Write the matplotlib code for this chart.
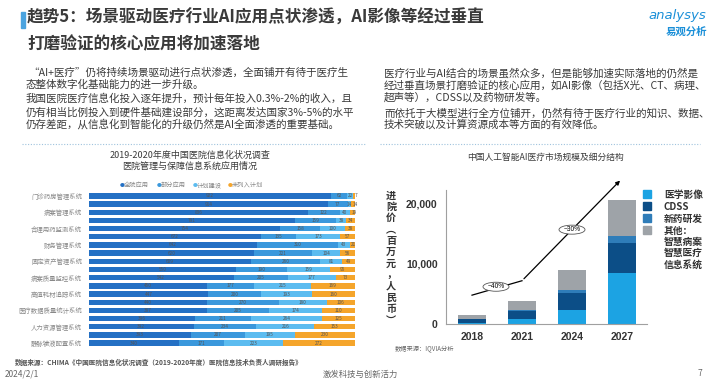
import matplotlib.pyplot as plt
from matplotlib.patches import Rectangle, Ellipse
from matplotlib.lines import Line2D
import numpy as np

plt.rcParams['font.family'] = ['Noto Sans CJK SC', 'DejaVu Sans']

# ---- left chart data: hospital systems (19 bars, every other one labelled)
sys_labels = ["门诊药房管理系统", "病案管理系统", "合理用药监测系统", "财务管理系统",
              "固定资产管理系统", "病案质量监控系统", "高值耗材追踪系统",
              "医疗数据质量统计系统", "人力资源管理系统", "静脉输液配置系统"]
status_names = ["全院应用", "部分应用", "计划建设", "未列入计划"]
full_use = [922, 914, 836, 791, 754, 672, 642, 620, 609, 550, 542, 450, 447, 440, 387, 396, 392, 393, 340]
part_use = [62, 77, 122, 159, 158, 135, 310, 221, 260, 190, 205, 177, 200, 270, 205, 211, 234, 207, 171]
planned = [22, 14, 40, 38, 100, 173, 43, 104, 81, 159, 177, 215, 193, 180, 174, 264, 216, 195, 223]
not_planned = [7, 14, 19, 34, 38, 57, 21, 56, 49, 95, 73, 169, 160, 106, 110, 125, 153, 230, 272]
status_colors = ["#2470c4", "#3a98dc", "#5cbcf0", "#f5a52b"]

# ---- right chart data: AI medical market (million RMB)
years = ["2018", "2021", "2024", "2027"]
seg_names = ["医学影像", "CDSS", "新药研发", "其他：\n智慧病案\n智慧医疗\n信息系统"]
imaging = [150, 750, 2300, 8500]
cdss = [650, 1350, 2800, 5000]
drug = [50, 150, 600, 1200]
other = [650, 1650, 3300, 6000]
seg_colors = ["#1ca3e3", "#0c4e87", "#2f7db9", "#9ea3a8"]

W, H = 720, 380
fig = plt.figure(figsize=(7.2, 3.8), dpi=100)
fig.patch.set_facecolor("white")


def fx(px):
    return px / W


def fy(py):
    return 1 - py / H


txt = "#3a3a3a"

# ---- header
fig.add_artist(Rectangle((fx(21), fy(28)), fx(3.5), 16 / H, color="#4aa3df", transform=fig.transFigure))
fig.text(fx(27), fy(18), "趋势5：场景驱动医疗行业AI应用点状渗透，AI影像等经过垂直",
         fontsize=12, weight="bold", color=txt, va="center")
fig.text(fx(27), fy(44), "打磨验证的核心应用将加速落地",
         fontsize=12, weight="bold", color=txt, va="center")
fig.text(fx(677), fy(16), "analysys", fontsize=9.5, style="italic", color="#1a8fd8",
         ha="center", va="center", family=["DejaVu Sans"])
fig.text(fx(686), fy(32), "易观分析", fontsize=7.5, weight="bold", color="#1a8fd8",
         ha="center", va="center")

# ---- body text
left_lines = [(28, 73, "“AI+医疗”仍将持续场景驱动进行点状渗透，全面铺开有待于医疗生"),
              (26, 85, "态整体数字化基础能力的进一步升级。"),
              (26, 99, "我国医院医疗信息化投入逐年提升，预计每年投入0.3%-2%的收入，且"),
              (26, 112, "仍有相当比例投入到硬件基础建设部分，这距离发达国家3%-5%的水平"),
              (26, 124, "仍存差距，从信息化到智能化的升级仍然是AI全面渗透的重要基础。")]
right_lines = [(384, 73, "医疗行业与AI结合的场景虽然众多，但是能够加速实际落地的仍然是"),
               (384, 85, "经过垂直场景打磨验证的核心应用，如AI影像（包括X光、CT、病理、"),
               (384, 97, "超声等），CDSS以及药物研发等。"),
               (384, 113, "而依托于大模型进行全方位铺开，仍然有待于医疗行业的知识、数据、"),
               (384, 124, "技术突破以及计算资源成本等方面的有效降低。")]
for x, y, s in left_lines + right_lines:
    fig.text(fx(x), fy(y), s, fontsize=7.6, color=txt, va="center")

fig.add_artist(Line2D([fx(22), fx(365)], [fy(144), fy(144)], transform=fig.transFigure,
                      color="#9fc3dd", lw=0.8, ls=(0, (1, 1.5))))
fig.add_artist(Line2D([fx(380), fx(700)], [fy(144), fy(144)], transform=fig.transFigure,
                      color="#9fc3dd", lw=0.8, ls=(0, (1, 1.5))))

# ---- left chart
fig.text(fx(190), fy(155), "2019-2020年度中国医院信息化状况调查", fontsize=6.5, color=txt,
         ha="center", va="center")
fig.text(fx(190), fy(166), "医院管理与保障信息系统应用情况", fontsize=6.5, color=txt,
         ha="center", va="center")
for name, col, x in zip(status_names, status_colors, [120, 157, 193, 228]):
    fig.text(fx(x), fy(185), "●", fontsize=3.5, color=col, va="center")
    fig.text(fx(x + 4), fy(185), name, fontsize=4.5, color="#888888", va="center")

ax1 = fig.add_axes([fx(89), fy(348), fx(355 - 89), (348 - 191) / H])
data = np.array([full_use, part_use, planned, not_planned], dtype=float)
totals = data.sum(axis=0)
shares = data / totals
ypos = np.arange(len(full_use))
left = np.zeros(len(full_use))
for i in range(4):
    ax1.barh(ypos, shares[i], left=left, height=0.66, color=status_colors[i])
    for j in ypos:
        # tiny end segments get their labels pushed apart a little
        xoff = 0.006 * (i - 2) if shares[i][j] < 0.03 else 0
        ax1.text(left[j] + shares[i][j] / 2 + xoff, j, str(int(data[i][j])), fontsize=3.4,
                 color="#555555", ha="center", va="center")
    left += shares[i]
ax1.set_xlim(0, 1)
ax1.set_ylim(len(full_use) - 0.4, -0.6)
ax1.set_yticks(ypos[::2])
ax1.set_yticklabels(sys_labels, fontsize=4.6, color="#888888")
ax1.tick_params(axis="y", length=0, pad=5)
ax1.set_xticks([])
for s in ax1.spines.values():
    s.set_visible(False)

fig.text(fx(15), fy(362), "数据来源：CHIMA《中国医院信息化状况调查（2019-2020年度）医院信息技术负责人调研报告》",
         fontsize=4.8, weight="bold", color="#555555", va="center")

# ---- right chart
fig.text(fx(546), fy(157), "中国人工智能AI医疗市场规模及细分结构", fontsize=6.3, color=txt,
         ha="center", va="center")
ax2 = fig.add_axes([fx(446), fy(324), fx(647 - 446), (324 - 190) / H])
xpos = np.arange(len(years))
bottom = np.zeros(len(years))
for vals, col, name in zip([imaging, cdss, drug, other], seg_colors, seg_names):
    ax2.bar(xpos, vals, bottom=bottom, width=0.56, color=col, label=name)
    bottom += np.array(vals)
ax2.set_xlim(-0.52, 3.5)
ax2.set_ylim(0, 22300)
ax2.set_xticks(xpos)
ax2.set_xticklabels(years, fontsize=7.5, weight="bold", family=["Liberation Sans"], color="#333333")
ax2.set_yticks([0, 10000, 20000])
ax2.set_yticklabels(["0", "10,000", "20,000"], fontsize=7.5, weight="bold",
                    family=["Liberation Sans"], color="#333333")
ax2.tick_params(length=0, pad=6)
for s in ["top", "right"]:
    ax2.spines[s].set_visible(False)
for s in ["left", "bottom"]:
    ax2.spines[s].set_color("#a0a0a0")
    ax2.spines[s].set_linewidth(0.8)

ylabel = "\n".join(["进", "院", "价", "︵", "百", "万", "元", "，", "人", "民", "币", "︶"])
fig.text(fx(391), fy(258), ylabel, fontsize=7.3, weight="bold", color="#333333",
         ha="center", va="center", linespacing=1.17)

# trend arrows
ax2.plot([0, 1], [4800, 7200], color="black", lw=0.9, clip_on=False)
ax2.annotate("", xy=(3, 24200), xytext=(1, 7200),
             arrowprops=dict(arrowstyle="-|>", color="black", lw=0.9, mutation_scale=6),
             annotation_clip=False)
for xc, yc, lab in [(0.48, 6200, "~40%"), (2.0, 15700, "~30%")]:
    ax2.add_patch(Ellipse((xc, yc), 0.52, 1500, facecolor="white", edgecolor="#555555",
                          lw=0.6, zorder=5))
    ax2.text(xc, yc, lab, fontsize=4.8, ha="center", va="center", zorder=6,
             family=["Liberation Sans"])

# legend
ly = [194, 206, 218, 230]
for name, col, y in zip(seg_names, seg_colors, ly):
    fig.add_artist(Rectangle((fx(643), fy(y + 4)), fx(8), 8 / H, color=col, transform=fig.transFigure))
    fig.text(fx(664), fy(y - 4), name, fontsize=7.0, weight="bold", color="#333333",
             va="top", linespacing=1.15)

fig.text(fx(395), fy(349), "数据来源：IQVIA分析", fontsize=4.5, color="#666666", va="center")

# ---- footer
fig.text(fx(5), fy(374), "2024/2/1", fontsize=6, color="#666666", va="center")
fig.text(fx(360), fy(374), "激发科技与创新活力", fontsize=6, color="#666666", va="center", ha="center")
fig.text(fx(700), fy(374), "7", fontsize=6, color="#666666", va="center", ha="center")

fig.savefig("out.png", dpi=100, facecolor="white")
